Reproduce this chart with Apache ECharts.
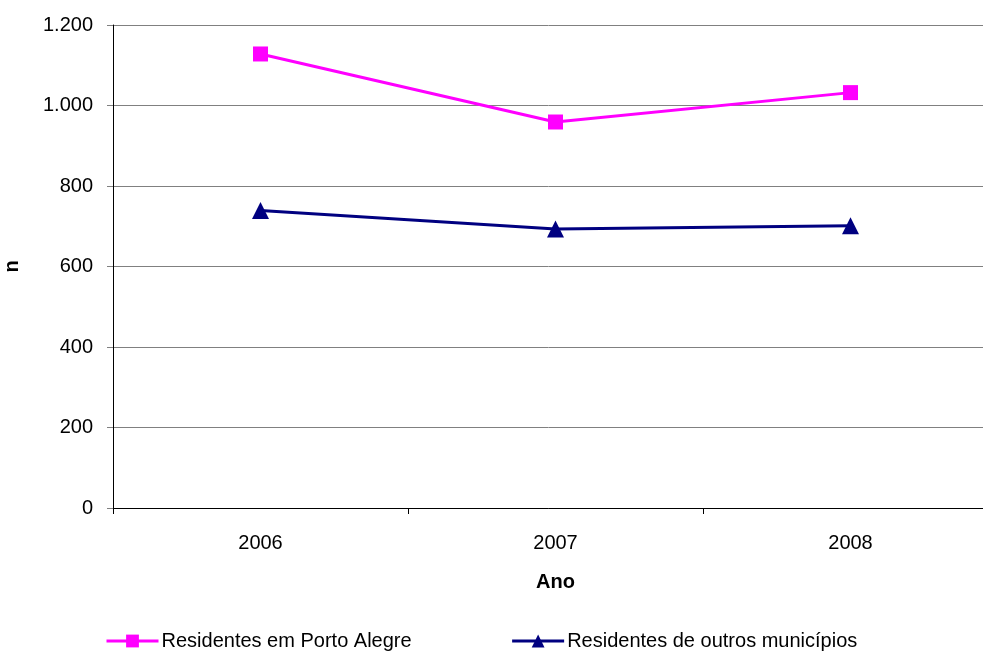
<!DOCTYPE html>
<html>
<head>
<meta charset="utf-8">
<script src="https://cdn.jsdelivr.net/npm/echarts@6/dist/echarts.min.js"></script>
<style>
  html, body { margin: 0; padding: 0; background: #fff; }
  #chart { width: 983px; height: 652px; }
</style>
</head>
<body>
<div id="chart"></div>
<script>
// dados
const anos = ["2006", "2007", "2008"];
const portoAlegre = [1128, 959, 1032];
const outrosMunicipios = [739, 693, 701];
const seriesNames = ["Residentes em Porto Alegre", "Residentes de outros municípios"];

const chart = echarts.init(document.getElementById("chart"), null, { renderer: "canvas" });

const font = "Liberation Sans, Arial, sans-serif";

const option = {
  animation: false,
  textStyle: { fontFamily: font },
  grid: { left: 113, top: 25, right: -15, bottom: 144, outerBoundsMode: "none", containLabel: false },
  legend: {
    left: 100,
    top: 626,
    itemWidth: 52,
    itemHeight: 16,
    itemGap: 99,
    lineStyle: { width: 3 },
    textStyle: { fontFamily: font, fontSize: 20, color: "#000", padding: [0, 0, 0, -2] },
    data: seriesNames
  },
  xAxis: {
    type: "category",
    data: anos,
    boundaryGap: true,
    name: "Ano",
    nameLocation: "middle",
    nameGap: 64,
    nameTextStyle: { fontWeight: "bold", fontSize: 20, color: "#000" },
    axisLine: { lineStyle: { color: "#000", width: 1 } },
    axisTick: { show: true, length: 6, lineStyle: { color: "#000" } },
    axisLabel: { color: "#000", fontSize: 20, margin: 25 }
  },
  yAxis: {
    type: "value",
    min: 0,
    max: 1200,
    interval: 200,
    name: "n",
    nameLocation: "middle",
    nameGap: 91,
    nameRotate: 90,
    nameTextStyle: { fontWeight: "bold", fontSize: 20, color: "#000" },
    axisLine: { show: true, lineStyle: { color: "#000", width: 1 } },
    axisTick: { show: true, length: 6, lineStyle: { color: "#808080" } },
    axisLabel: {
      color: "#000",
      fontSize: 20,
      margin: 20,
      formatter: (v) => String(v).replace(/\B(?=(\d{3})+(?!\d))/g, ".")
    },
    splitLine: { lineStyle: { color: "#808080", width: 1 } }
  },
  series: [
    {
      name: seriesNames[0],
      type: "line",
      data: portoAlegre,
      symbol: "rect",
      symbolSize: 15,
      color: "#FF00FF",
      lineStyle: { color: "#FF00FF", width: 3 },
      itemStyle: { color: "#FF00FF" }
    },
    {
      name: seriesNames[1],
      type: "line",
      data: outrosMunicipios,
      symbol: "triangle",
      symbolSize: 17,
      color: "#000080",
      lineStyle: { color: "#000080", width: 3 },
      itemStyle: { color: "#000080" }
    }
  ]
};

chart.setOption(option);
</script>
</body>
</html>
